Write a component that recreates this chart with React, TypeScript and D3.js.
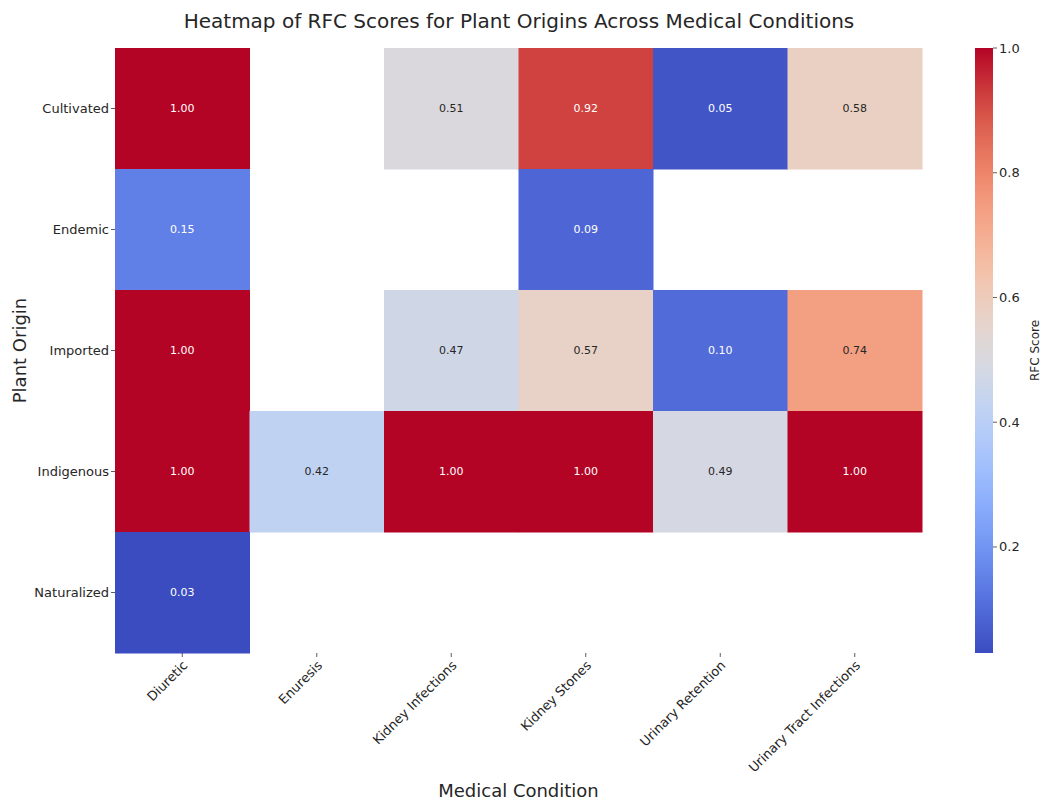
import React, { useEffect, useRef } from "react";
import * as d3 from "d3";

const conditions = ["Diuretic", "Enuresis", "Kidney Infections", "Kidney Stones", "Urinary Retention", "Urinary Tract Infections"];
const origins = ["Cultivated", "Endemic", "Imported", "Indigenous", "Naturalized"];
const cultivated = [1.0, null, 0.51, 0.92, 0.05, 0.58];
const endemic = [0.15, null, null, 0.09, null, null];
const imported = [1.0, null, 0.47, 0.57, 0.10, 0.74];
const indigenous = [1.0, 0.42, 1.0, 1.0, 0.49, 1.0];
const naturalized = [0.03, null, null, null, null, null];
const colorbarTicks = [0.2, 0.4, 0.6, 0.8, 1.0];
const coolwarmStops = ["#3b4cc0", "#5977e3", "#7b9ff9", "#9ebeff", "#c0d4f5", "#dddcdc", "#f2cbb7", "#f7ac8e", "#ee8468", "#d65244", "#b40426"];

const rows: (number | null)[][] = [cultivated, endemic, imported, indigenous, naturalized];

export default function App() {
  const ref = useRef<SVGSVGElement>(null);
  useEffect(() => {
    const svg = d3.select(ref.current);
    svg.selectAll("*").remove();
    const W = 1044, H = 800;
    const left = 115, right = 922, top = 48, bottom = 653;
    const font = "DejaVu Sans, sans-serif";
    const vmin = 0.03, vmax = 1.0;
    const interp = d3.interpolateRgbBasis(coolwarmStops);
    const color = (v: number) => interp((v - vmin) / (vmax - vmin));

    const x = d3.scaleBand().domain(conditions).range([left, right]).padding(0);
    const y = d3.scaleBand().domain(origins).range([top, bottom]).padding(0);

    svg.append("rect").attr("width", W).attr("height", H).attr("fill", "#fff");

    const cells: { o: string; c: string; v: number }[] = [];
    rows.forEach((r, i) => r.forEach((v, j) => { if (v !== null) cells.push({ o: origins[i], c: conditions[j], v }); }));

    svg.append("g").selectAll("rect").data(cells).join("rect")
      .attr("x", d => x(d.c)!).attr("y", d => y(d.o)!)
      .attr("width", x.bandwidth() + 0.5).attr("height", y.bandwidth() + 0.5)
      .attr("fill", d => color(d.v));

    const lum = (c: string) => {
      const rgb = d3.rgb(c);
      const f = (u: number) => { u /= 255; return u <= 0.03928 ? u / 12.92 : Math.pow((u + 0.055) / 1.055, 2.4); };
      return 0.2126 * f(rgb.r) + 0.7152 * f(rgb.g) + 0.0722 * f(rgb.b);
    };

    svg.append("g").selectAll("text").data(cells).join("text")
      .attr("x", d => x(d.c)! + x.bandwidth() / 2).attr("y", d => y(d.o)! + y.bandwidth() / 2)
      .attr("text-anchor", "middle").attr("dominant-baseline", "central")
      .attr("font-family", font).attr("font-size", 11)
      .attr("fill", d => (lum(color(d.v)) > 0.408 ? "#262626" : "#ffffff"))
      .text(d => d.v.toFixed(2));

    // y ticks
    const yg = svg.append("g");
    origins.forEach(o => {
      const cy = y(o)! + y.bandwidth() / 2;
      yg.append("line").attr("x1", left - 4).attr("x2", left).attr("y1", cy).attr("y2", cy).attr("stroke", "#333").attr("stroke-width", 0.8);
      yg.append("text").attr("x", left - 6).attr("y", cy).attr("text-anchor", "end").attr("dominant-baseline", "central")
        .attr("font-family", font).attr("font-size", 13).attr("fill", "#262626").text(o);
    });

    // x ticks
    const xg = svg.append("g");
    conditions.forEach(c => {
      const cx = x(c)! + x.bandwidth() / 2;
      xg.append("line").attr("x1", cx).attr("x2", cx).attr("y1", bottom).attr("y2", bottom + 4).attr("stroke", "#333").attr("stroke-width", 0.8);
      xg.append("text").attr("transform", `translate(${cx + 3},${bottom + 10}) rotate(-45)`)
        .attr("text-anchor", "end").attr("dominant-baseline", "central")
        .attr("font-family", font).attr("font-size", 13).attr("fill", "#262626").text(c);
    });

    svg.append("text").attr("x", (left + right) / 2).attr("y", 797).attr("text-anchor", "middle")
      .attr("font-family", font).attr("font-size", 18).attr("fill", "#262626").text("Medical Condition");
    svg.append("text").attr("transform", `translate(26,${(top + bottom) / 2}) rotate(-90)`).attr("text-anchor", "middle")
      .attr("font-family", font).attr("font-size", 18).attr("fill", "#262626").text("Plant Origin");
    svg.append("text").attr("x", 519).attr("y", 28).attr("text-anchor", "middle")
      .attr("font-family", font).attr("font-size", 20).attr("fill", "#262626")
      .text("Heatmap of RFC Scores for Plant Origins Across Medical Conditions");

    // colorbar
    const cbx = 975, cbw = 18;
    const cs = d3.scaleLinear().domain([vmin, vmax]).range([bottom, top]);
    const defs = svg.append("defs");
    const grad = defs.append("linearGradient").attr("id", "cbgrad").attr("x1", 0).attr("y1", 1).attr("x2", 0).attr("y2", 0);
    d3.range(0, 1.0001, 0.02).forEach(t => {
      grad.append("stop").attr("offset", t).attr("stop-color", interp(t));
    });
    svg.append("rect").attr("x", cbx).attr("y", top).attr("width", cbw).attr("height", bottom - top).attr("fill", "url(#cbgrad)");
    colorbarTicks.forEach(t => {
      const ty = cs(t);
      svg.append("line").attr("x1", cbx + cbw).attr("x2", cbx + cbw + 4).attr("y1", ty).attr("y2", ty).attr("stroke", "#333").attr("stroke-width", 0.8);
      svg.append("text").attr("x", cbx + cbw + 6).attr("y", ty).attr("dominant-baseline", "central")
        .attr("font-family", font).attr("font-size", 13).attr("fill", "#262626").text(t.toFixed(1));
    });
    svg.append("text").attr("transform", `translate(1039,${(top + bottom) / 2}) rotate(-90)`).attr("text-anchor", "middle")
      .attr("font-family", font).attr("font-size", 12).attr("fill", "#262626").text("RFC Score");
  }, []);
  return (
    <div style={{ position: "absolute", left: 0, top: 0 }}>
      <svg ref={ref} width={1044} height={800} style={{ display: "block" }} />
    </div>
  );
}
